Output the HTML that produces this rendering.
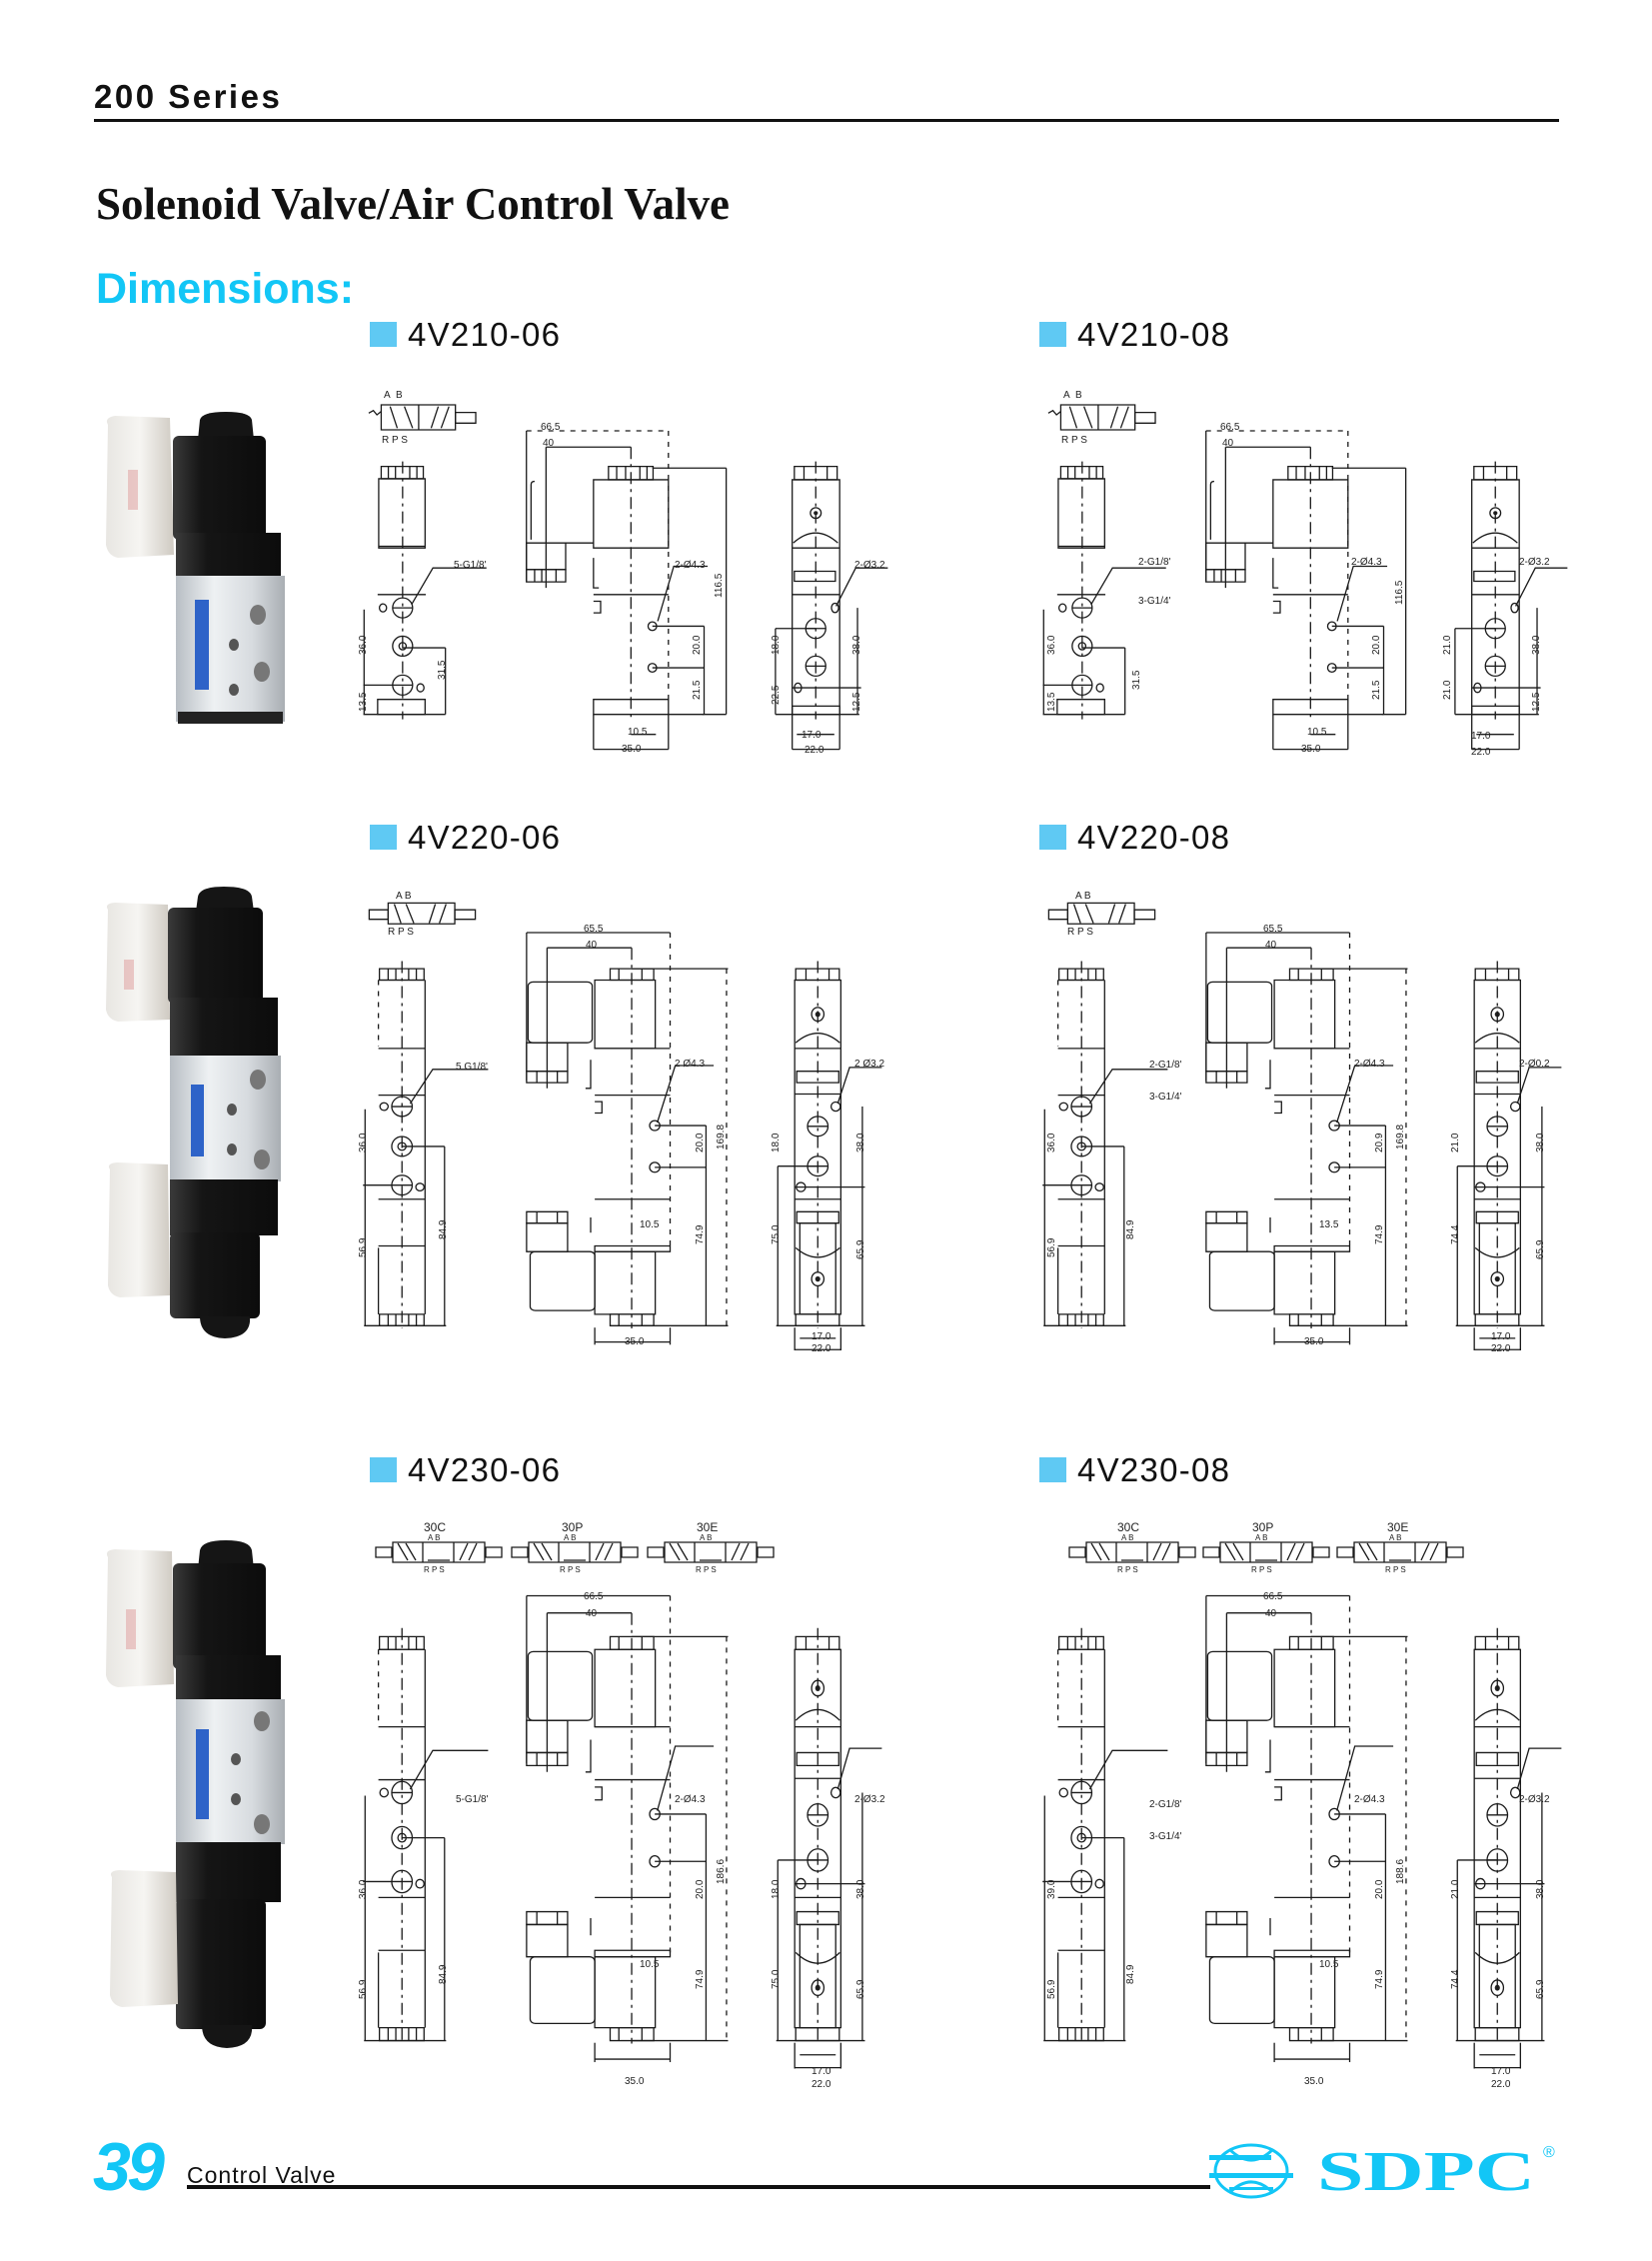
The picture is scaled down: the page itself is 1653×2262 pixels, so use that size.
<!DOCTYPE html>
<html><head><meta charset="utf-8">
<style>
html,body{margin:0;padding:0;background:#fff;}
body{width:1653px;height:2262px;overflow:hidden;position:relative;}
svg{position:absolute;left:0;top:0;}
.d{fill:none;stroke:#1a1a1a;stroke-width:1.3;vector-effect:non-scaling-stroke}
.c{stroke-dasharray:12 5 3 5}
.k{stroke-dasharray:5 6}
.t{font-family:"Liberation Sans",sans-serif;fill:#222}
</style></head>
<body>
<svg width="1653" height="2262" viewBox="0 0 1653 2262" xmlns="http://www.w3.org/2000/svg">
<defs>
<linearGradient id="al" x1="0" x2="1" y1="0" y2="0">
<stop offset="0" stop-color="#b8bec4"/><stop offset="0.35" stop-color="#eef1f3"/><stop offset="0.7" stop-color="#d7dbdf"/><stop offset="1" stop-color="#a9aeb3"/></linearGradient>
<linearGradient id="bk" x1="0" x2="1" y1="0" y2="0">
<stop offset="0" stop-color="#3a3a3a"/><stop offset="0.3" stop-color="#151515"/><stop offset="1" stop-color="#0c0c0c"/></linearGradient>
<linearGradient id="wh" x1="0" x2="1" y1="0" y2="0">
<stop offset="0" stop-color="#e8e6e2"/><stop offset="0.5" stop-color="#f6f5f2"/><stop offset="1" stop-color="#cfcac2"/></linearGradient>

<g id="v1">
<rect class="d" x="60" y="15" width="208" height="75"/>
<line class="d" x1="165" y1="15" x2="165" y2="90"/>
<rect class="d" x="268" y="38" width="57" height="32"/>
<line class="d" x1="85" y1="20" x2="105" y2="85"/><line class="d" x1="125" y1="20" x2="148" y2="85"/>
<line class="d" x1="200" y1="85" x2="220" y2="20"/><line class="d" x1="228" y1="85" x2="250" y2="20"/>
<polyline class="d" points="25,40 38,32 48,45 60,35"/>
<rect class="d" x="60" y="200" width="118" height="37"/>
<line class="d" x1="80" y1="200" x2="80" y2="237"/><line class="d" x1="100" y1="200" x2="100" y2="237"/><line class="d" x1="140" y1="200" x2="140" y2="237"/><line class="d" x1="160" y1="200" x2="160" y2="237"/>
<rect class="d" x="53" y="237" width="130" height="208"/>
<line class="d" x1="53" y1="440" x2="183" y2="440"/>
<line class="d c" x1="120" y1="185" x2="120" y2="960"/>
<line class="d" x1="50" y1="585" x2="185" y2="585"/>
<ellipse class="d" cx="120" cy="625" rx="28" ry="30"/><line class="d" x1="92" y1="625" x2="148" y2="625"/>
<ellipse class="d" cx="120" cy="740" rx="28" ry="30"/><ellipse class="d" cx="120" cy="740" rx="10" ry="11"/>
<ellipse class="d" cx="120" cy="857" rx="28" ry="30"/><line class="d" x1="92" y1="857" x2="148" y2="857"/>
<ellipse class="d" cx="65" cy="625" rx="10" ry="12"/><ellipse class="d" cx="170" cy="865" rx="10" ry="12"/>
<rect class="d" x="50" y="900" width="133" height="45"/>
<line class="d" x1="10" y1="945" x2="240" y2="945"/><line class="d" x1="240" y1="745" x2="240" y2="945"/><line class="d" x1="120" y1="745" x2="240" y2="745"/>
<line class="d" x1="12" y1="630" x2="12" y2="945"/><line class="d" x1="10" y1="857" x2="92" y2="857"/>
<polyline class="d" points="145,615 205,505 355,505"/>
<line class="d k" x1="467" y1="93" x2="865" y2="93"/>
<line class="d" x1="467" y1="93" x2="467" y2="545"/>
<line class="d" x1="522" y1="142" x2="522" y2="565"/><line class="d" x1="522" y1="142" x2="760" y2="142"/>
<line class="d c" x1="760" y1="142" x2="760" y2="960"/>
<line class="d k" x1="865" y1="93" x2="865" y2="900"/>
<rect class="d" x="697" y="200" width="125" height="40"/>
<line class="d" x1="720" y1="200" x2="720" y2="240"/><line class="d" x1="745" y1="200" x2="745" y2="240"/><line class="d" x1="785" y1="200" x2="785" y2="240"/><line class="d" x1="805" y1="200" x2="805" y2="240"/>
<rect class="d" x="655" y="240" width="210" height="205"/>
<path class="d" d="M480,420 V255 Q480,245 490,245"/>
<rect class="d" x="467" y="430" width="110" height="80"/>
<line class="d" x1="577" y1="430" x2="655" y2="430"/>
<rect class="d" x="467" y="510" width="110" height="37"/>
<line class="d" x1="490" y1="510" x2="490" y2="547"/><line class="d" x1="510" y1="510" x2="510" y2="547"/><line class="d" x1="550" y1="510" x2="550" y2="547"/>
<line class="d" x1="655" y1="585" x2="865" y2="585"/>
<polyline class="d" points="655,475 655,565 670,565"/>
<polyline class="d" points="655,605 675,605 675,640 655,640"/>
<rect class="d" x="655" y="900" width="210" height="45"/>
<ellipse class="d" cx="820" cy="680" rx="12" ry="13"/><ellipse class="d" cx="820" cy="805" rx="12" ry="13"/>
<line class="d" x1="820" y1="680" x2="965" y2="680"/><line class="d" x1="820" y1="805" x2="965" y2="805"/>
<line class="d" x1="965" y1="680" x2="965" y2="945"/><line class="d" x1="865" y1="945" x2="965" y2="945"/>
<line class="d" x1="820" y1="205" x2="1027" y2="205"/><line class="d" x1="1027" y1="205" x2="1027" y2="945"/><line class="d" x1="960" y1="945" x2="1027" y2="945"/>
<polyline class="d" points="835,665 880,500 975,500"/>
<line class="d" x1="655" y1="945" x2="655" y2="1050"/><line class="d" x1="865" y1="945" x2="865" y2="1050"/>
<line class="d" x1="760" y1="1005" x2="830" y2="1005"/><line class="d" x1="655" y1="1050" x2="865" y2="1050"/>
<rect class="d" x="1218" y="200" width="120" height="40"/>
<line class="d" x1="1245" y1="200" x2="1245" y2="240"/><line class="d" x1="1310" y1="200" x2="1310" y2="240"/>
<rect class="d" x="1212" y="240" width="133" height="705"/>
<path class="d" d="M1215,430 Q1278,370 1340,430"/>
<line class="d" x1="1212" y1="445" x2="1345" y2="445"/>
<rect class="d" x="1218" y="515" width="115" height="30"/>
<line class="d" x1="1212" y1="585" x2="1345" y2="585"/>
<ellipse class="d" cx="1278" cy="340" rx="15" ry="16"/><ellipse cx="1278" cy="340" rx="6" ry="6" fill="#222"/>
<ellipse class="d" cx="1278" cy="687" rx="28" ry="30"/><line class="d" x1="1250" y1="687" x2="1306" y2="687"/>
<ellipse class="d" cx="1278" cy="800" rx="28" ry="30"/><line class="d" x1="1250" y1="800" x2="1306" y2="800"/>
<ellipse class="d" cx="1332" cy="625" rx="10" ry="14"/><ellipse class="d" cx="1228" cy="865" rx="10" ry="14"/>
<rect class="d" x="1212" y="920" width="133" height="25"/>
<line class="d c" x1="1278" y1="185" x2="1278" y2="960"/>
<line class="d" x1="1165" y1="687" x2="1278" y2="687"/><line class="d" x1="1165" y1="687" x2="1165" y2="945"/>
<line class="d" x1="1395" y1="625" x2="1395" y2="945"/><line class="d" x1="1165" y1="945" x2="1400" y2="945"/>
<line class="d" x1="1212" y1="865" x2="1405" y2="865"/>
<line class="d" x1="1212" y1="945" x2="1212" y2="1050"/><line class="d" x1="1345" y1="945" x2="1345" y2="1050"/>
<line class="d" x1="1225" y1="1005" x2="1330" y2="1005"/><line class="d" x1="1212" y1="1050" x2="1345" y2="1050"/>
<polyline class="d" points="1335,620 1390,505 1480,505"/>
</g>

<g id="v2">
<rect class="d" x="588" y="445" width="87" height="30"/>
<line class="d" x1="605" y1="445" x2="605" y2="475"/><line class="d" x1="620" y1="445" x2="620" y2="475"/><line class="d" x1="645" y1="445" x2="645" y2="475"/><line class="d" x1="660" y1="445" x2="660" y2="475"/>
<rect class="d" x="588" y="1355" width="87" height="30"/>
<line class="d" x1="605" y1="1355" x2="605" y2="1385"/><line class="d" x1="620" y1="1355" x2="620" y2="1385"/><line class="d" x1="645" y1="1355" x2="645" y2="1385"/><line class="d" x1="660" y1="1355" x2="660" y2="1385"/>
<line class="d" x1="677" y1="475" x2="677" y2="1355"/>
<line class="d k" x1="586" y1="475" x2="586" y2="650"/>
<line class="d" x1="586" y1="475" x2="677" y2="475"/><line class="d" x1="586" y1="655" x2="677" y2="655"/>
<line class="d" x1="586" y1="778" x2="677" y2="778"/>
<line class="d" x1="586" y1="1052" x2="677" y2="1052"/>
<ellipse class="d" cx="632" cy="808" rx="20" ry="26"/><line class="d" x1="612" y1="808" x2="652" y2="808"/>
<ellipse class="d" cx="632" cy="913" rx="20" ry="26"/><ellipse class="d" cx="632" cy="913" rx="8" ry="10"/>
<ellipse class="d" cx="632" cy="1015" rx="20" ry="26"/><line class="d" x1="612" y1="1015" x2="652" y2="1015"/>
<ellipse class="d" cx="597" cy="808" rx="8" ry="10"/><ellipse class="d" cx="667" cy="1020" rx="8" ry="10"/>
<line class="d" x1="586" y1="1175" x2="677" y2="1175"/><line class="d" x1="586" y1="1180" x2="586" y2="1355"/>
<line class="d c" x1="632" y1="425" x2="632" y2="1392"/>
<line class="d" x1="560" y1="815" x2="560" y2="1385"/><line class="d" x1="715" y1="913" x2="715" y2="1385"/>
<line class="d" x1="632" y1="913" x2="715" y2="913"/>
<line class="d" x1="558" y1="1385" x2="718" y2="1385"/><line class="d" x1="556" y1="1015" x2="612" y2="1015"/>
<polyline class="d" points="648,800 692,710 800,710"/>
<line class="d" x1="875" y1="350" x2="1155" y2="350"/><line class="d" x1="875" y1="350" x2="875" y2="740"/>
<line class="d" x1="915" y1="390" x2="1080" y2="390"/><line class="d" x1="915" y1="390" x2="915" y2="760"/>
<line class="d c" x1="1080" y1="390" x2="1080" y2="1392"/>
<line class="d k" x1="1155" y1="350" x2="1155" y2="1180"/>
<rect class="d" x="1038" y="445" width="85" height="30"/>
<line class="d" x1="1055" y1="445" x2="1055" y2="475"/><line class="d" x1="1100" y1="445" x2="1100" y2="475"/>
<rect class="d" x="1008" y="475" width="118" height="180"/>
<rect class="d" x="878" y="480" width="125" height="160" rx="10"/>
<rect class="d" x="875" y="640" width="80" height="75"/>
<rect class="d" x="875" y="715" width="80" height="30"/>
<line class="d" x1="895" y1="715" x2="895" y2="745"/><line class="d" x1="935" y1="715" x2="935" y2="745"/>
<line class="d" x1="1008" y1="655" x2="1155" y2="655"/>
<line class="d" x1="1008" y1="778" x2="1155" y2="778"/>
<polyline class="d" points="1000,685 1000,760 990,760"/><polyline class="d" points="1008,795 1022,795 1022,825 1008,825"/>
<line class="d" x1="1008" y1="1052" x2="1155" y2="1052"/>
<ellipse class="d" cx="1125" cy="858" rx="10" ry="13"/><ellipse class="d" cx="1125" cy="968" rx="10" ry="13"/>
<line class="d" x1="1125" y1="858" x2="1225" y2="858"/><line class="d" x1="1125" y1="968" x2="1225" y2="968"/>
<line class="d" x1="1225" y1="858" x2="1225" y2="1385"/>
<line class="d" x1="1080" y1="445" x2="1268" y2="445"/><line class="d k" x1="1265" y1="445" x2="1265" y2="1385"/>
<polyline class="d" points="1130,850 1165,700 1240,700"/>
<rect class="d" x="875" y="1085" width="80" height="30"/>
<line class="d" x1="895" y1="1085" x2="895" y2="1115"/><line class="d" x1="935" y1="1085" x2="935" y2="1115"/>
<rect class="d" x="875" y="1115" width="80" height="75"/>
<rect class="d" x="882" y="1190" width="126" height="155" rx="10"/>
<rect class="d" x="1008" y="1175" width="147" height="15"/>
<rect class="d" x="1008" y="1190" width="118" height="165"/>
<rect class="d" x="1038" y="1355" width="85" height="30"/>
<line class="d" x1="1055" y1="1355" x2="1055" y2="1385"/><line class="d" x1="1100" y1="1355" x2="1100" y2="1385"/>
<line class="d" x1="1000" y1="1100" x2="1000" y2="1140"/>
<line class="d" x1="1080" y1="1385" x2="1268" y2="1385"/>
<line class="d" x1="1008" y1="1390" x2="1008" y2="1435"/><line class="d" x1="1155" y1="1390" x2="1155" y2="1435"/>
<line class="d" x1="1008" y1="1428" x2="1155" y2="1428"/>
<rect class="d" x="1400" y="445" width="85" height="30"/>
<line class="d" x1="1420" y1="445" x2="1420" y2="475"/><line class="d" x1="1465" y1="445" x2="1465" y2="475"/>
<rect class="d" x="1398" y="475" width="90" height="880"/>
<path class="d" d="M1400,640 Q1443,590 1486,640"/>
<line class="d" x1="1398" y1="655" x2="1488" y2="655"/>
<rect class="d" x="1402" y="715" width="82" height="30"/>
<line class="d" x1="1398" y1="775" x2="1488" y2="775"/>
<ellipse class="d" cx="1443" cy="565" rx="12" ry="18"/><ellipse cx="1443" cy="565" rx="5" ry="7" fill="#222"/>
<ellipse class="d" cx="1443" cy="860" rx="20" ry="26"/><line class="d" x1="1423" y1="860" x2="1463" y2="860"/>
<ellipse class="d" cx="1443" cy="965" rx="20" ry="26"/><line class="d" x1="1423" y1="965" x2="1463" y2="965"/>
<ellipse class="d" cx="1478" cy="808" rx="9" ry="12"/><ellipse class="d" cx="1410" cy="1020" rx="9" ry="12"/>
<line class="d" x1="1398" y1="1052" x2="1488" y2="1052"/>
<rect class="d" x="1402" y="1085" width="82" height="30"/>
<path class="d" d="M1400,1180 Q1443,1230 1486,1180"/>
<rect class="d" x="1408" y="1115" width="70" height="240"/>
<ellipse class="d" cx="1443" cy="1262" rx="12" ry="18"/><ellipse cx="1443" cy="1262" rx="5" ry="7" fill="#222"/>
<rect class="d" x="1400" y="1355" width="85" height="30"/>
<line class="d c" x1="1443" y1="425" x2="1443" y2="1392"/>
<line class="d" x1="1365" y1="965" x2="1443" y2="965"/><line class="d" x1="1365" y1="965" x2="1365" y2="1385"/>
<line class="d" x1="1530" y1="808" x2="1530" y2="1385"/><line class="d" x1="1398" y1="1020" x2="1535" y2="1020"/>
<line class="d" x1="1362" y1="1385" x2="1535" y2="1385"/>
<line class="d" x1="1398" y1="1390" x2="1398" y2="1450"/><line class="d" x1="1488" y1="1390" x2="1488" y2="1450"/>
<line class="d" x1="1408" y1="1418" x2="1478" y2="1418"/><line class="d" x1="1398" y1="1448" x2="1488" y2="1448"/>
<polyline class="d" points="1482,800 1505,705 1568,705"/>
</g>

<g id="sym3">
<rect class="d" x="0" y="6" width="16" height="10"/>
<rect class="d" x="17" y="1" width="92" height="20"/>
<line class="d" x1="47" y1="1" x2="47" y2="21"/><line class="d" x1="78" y1="1" x2="78" y2="21"/>
<line class="d" x1="22" y1="2" x2="32" y2="19"/><line class="d" x1="30" y1="2" x2="40" y2="19"/>
<line class="d" x1="84" y1="19" x2="92" y2="2"/><line class="d" x1="93" y1="19" x2="101" y2="2"/>
<line class="d" x1="52" y1="19" x2="74" y2="19"/>
<rect class="d" x="110" y="6" width="16" height="10"/>
</g>
</defs>

<text x="94" y="108" font-family="Liberation Sans, sans-serif" font-weight="bold" font-size="33" letter-spacing="2.5" fill="#111">200 Series</text>
<rect x="94" y="119" width="1466" height="3" fill="#111"/>
<text x="96" y="219" font-family="Liberation Serif, serif" font-weight="bold" font-size="45" fill="#111" textLength="634" lengthAdjust="spacingAndGlyphs">Solenoid Valve/Air Control Valve</text>
<text x="96" y="303" font-family="Liberation Sans, sans-serif" font-weight="bold" font-size="43" fill="#12c6f6">Dimensions:</text>

<rect x="370" y="322" width="27" height="25" fill="#5fc9f3"/>
<text x="408" y="346" font-family="Liberation Sans, sans-serif" font-size="33" fill="#111" textLength="152">4V210-06</text>
<rect x="1040" y="322" width="27" height="25" fill="#5fc9f3"/>
<text x="1078" y="346" font-family="Liberation Sans, sans-serif" font-size="33" fill="#111" textLength="152">4V210-08</text>
<rect x="370" y="825" width="27" height="25" fill="#5fc9f3"/>
<text x="408" y="849" font-family="Liberation Sans, sans-serif" font-size="33" fill="#111" textLength="152">4V220-06</text>
<rect x="1040" y="825" width="27" height="25" fill="#5fc9f3"/>
<text x="1078" y="849" font-family="Liberation Sans, sans-serif" font-size="33" fill="#111" textLength="152">4V220-08</text>
<rect x="370" y="1458" width="27" height="25" fill="#5fc9f3"/>
<text x="408" y="1482" font-family="Liberation Sans, sans-serif" font-size="33" fill="#111" textLength="152">4V230-06</text>
<rect x="1040" y="1458" width="27" height="25" fill="#5fc9f3"/>
<text x="1078" y="1482" font-family="Liberation Sans, sans-serif" font-size="33" fill="#111" textLength="152">4V230-08</text>

<use href="#v1" transform="translate(360,400) scale(0.357,0.333)"/>
<use href="#v1" transform="translate(1040,400) scale(0.357,0.333)"/>
<g class="t" font-size="10">
<text x="384" y="398">A</text><text x="396" y="398">B</text><text x="382" y="443">R P S</text>
<text x="541" y="430">66.5</text><text x="543" y="446">40</text>
<text x="454" y="568">5-G1/8'</text><text x="675" y="568">2-Ø4.3</text><text x="855" y="568">2-Ø3.2</text>
<text x="628" y="735">10.5</text><text x="622" y="752">35.0</text>
<text x="802" y="738">17.0</text><text x="805" y="753">22.0</text>
<text transform="translate(366,655) rotate(-90)">36.0</text><text transform="translate(445,680) rotate(-90)">31.5</text>
<text transform="translate(366,712) rotate(-90)">13.5</text><text transform="translate(722,598) rotate(-90)">116.5</text>
<text transform="translate(700,655) rotate(-90)">20.0</text><text transform="translate(700,700) rotate(-90)">21.5</text>
<text transform="translate(779,655) rotate(-90)">18.0</text><text transform="translate(860,655) rotate(-90)">38.0</text>
<text transform="translate(779,705) rotate(-90)">22.5</text><text transform="translate(860,712) rotate(-90)">12.5</text>
</g>
<g class="t" font-size="10">
<text x="1064" y="398">A</text><text x="1076" y="398">B</text><text x="1062" y="443">R P S</text>
<text x="1221" y="430">66.5</text><text x="1223" y="446">40</text>
<text x="1139" y="565">2-G1/8'</text><text x="1139" y="604">3-G1/4'</text><text x="1352" y="565">2-Ø4.3</text><text x="1520" y="565">2-Ø3.2</text>
<text x="1308" y="735">10.5</text><text x="1302" y="752">35.0</text>
<text x="1472" y="739">17.0</text><text x="1472" y="755">22.0</text>
<text transform="translate(1055,655) rotate(-90)">36.0</text><text transform="translate(1140,690) rotate(-90)">31.5</text>
<text transform="translate(1055,712) rotate(-90)">13.5</text><text transform="translate(1403,605) rotate(-90)">116.5</text>
<text transform="translate(1380,655) rotate(-90)">20.0</text><text transform="translate(1380,700) rotate(-90)">21.5</text>
<text transform="translate(1451,655) rotate(-90)">21.0</text><text transform="translate(1540,655) rotate(-90)">38.0</text>
<text transform="translate(1451,700) rotate(-90)">21.0</text><text transform="translate(1540,712) rotate(-90)">12.5</text>
</g>

<g transform="translate(78,800) scale(0.513,0.38)">
<rect class="d" x="605" y="272" width="130" height="55"/><rect class="d" x="568" y="290" width="37" height="25"/><rect class="d" x="735" y="290" width="40" height="25"/>
<line class="d" x1="617" y1="275" x2="630" y2="325"/><line class="d" x1="640" y1="275" x2="655" y2="325"/><line class="d" x1="685" y1="325" x2="697" y2="275"/><line class="d" x1="705" y1="325" x2="718" y2="275"/>
</g>
<g transform="translate(758,800) scale(0.513,0.38)">
<rect class="d" x="605" y="272" width="130" height="55"/><rect class="d" x="568" y="290" width="37" height="25"/><rect class="d" x="735" y="290" width="40" height="25"/>
<line class="d" x1="617" y1="275" x2="630" y2="325"/><line class="d" x1="640" y1="275" x2="655" y2="325"/><line class="d" x1="685" y1="325" x2="697" y2="275"/><line class="d" x1="705" y1="325" x2="718" y2="275"/>
</g>
<use href="#v2" transform="translate(78,800) scale(0.513,0.38)"/>
<use href="#v2" transform="translate(758,800) scale(0.513,0.38)"/>
<g class="t" font-size="10">
<text x="396" y="899">A B</text><text x="388" y="935">R P S</text>
<text x="584" y="932">65.5</text><text x="586" y="948">40</text>
<text x="456" y="1070">5 G1/8'</text><text x="675" y="1067">2 Ø4.3</text><text x="855" y="1067">2 Ø3.2</text>
<text x="640" y="1228">10.5</text><text x="625" y="1345">35.0</text>
<text x="812" y="1340">17.0</text><text x="812" y="1352">22.0</text>
<text transform="translate(366,1153) rotate(-90)">36.0</text><text transform="translate(366,1258) rotate(-90)">56.9</text>
<text transform="translate(446,1240) rotate(-90)">84.9</text><text transform="translate(703,1153) rotate(-90)">20.0</text>
<text transform="translate(724,1150) rotate(-90)">169.8</text><text transform="translate(703,1245) rotate(-90)">74.9</text>
<text transform="translate(779,1153) rotate(-90)">18.0</text><text transform="translate(779,1245) rotate(-90)">75.0</text>
<text transform="translate(864,1153) rotate(-90)">38.0</text><text transform="translate(864,1260) rotate(-90)">65.9</text>
</g>
<g class="t" font-size="10">
<text x="1076" y="899">A B</text><text x="1068" y="935">R P S</text>
<text x="1264" y="932">65.5</text><text x="1266" y="948">40</text>
<text x="1150" y="1068">2-G1/8'</text><text x="1150" y="1100">3-G1/4'</text><text x="1355" y="1067">2-Ø4.3</text><text x="1520" y="1067">2-Ø0.2</text>
<text x="1320" y="1228">13.5</text><text x="1305" y="1345">35.0</text>
<text x="1492" y="1340">17.0</text><text x="1492" y="1352">22.0</text>
<text transform="translate(1055,1153) rotate(-90)">36.0</text><text transform="translate(1055,1258) rotate(-90)">56.9</text>
<text transform="translate(1134,1240) rotate(-90)">84.9</text><text transform="translate(1383,1153) rotate(-90)">20.9</text>
<text transform="translate(1404,1150) rotate(-90)">169.8</text><text transform="translate(1383,1245) rotate(-90)">74.9</text>
<text transform="translate(1459,1153) rotate(-90)">21.0</text><text transform="translate(1459,1245) rotate(-90)">74.4</text>
<text transform="translate(1544,1153) rotate(-90)">38.0</text><text transform="translate(1544,1260) rotate(-90)">65.9</text>
</g>

<use href="#sym3" x="376" y="1542"/><use href="#sym3" x="512" y="1542"/><use href="#sym3" x="648" y="1542"/>
<use href="#sym3" x="1070" y="1542"/><use href="#sym3" x="1204" y="1542"/><use href="#sym3" x="1338" y="1542"/>
<g class="t" font-size="12">
<text x="424" y="1532">30C</text><text x="562" y="1532">30P</text><text x="697" y="1532">30E</text>
<text x="1118" y="1532">30C</text><text x="1253" y="1532">30P</text><text x="1388" y="1532">30E</text>
</g>
<g class="t" font-size="8">
<text x="428" y="1541">A B</text><text x="424" y="1573">R P S</text><text x="564" y="1541">A B</text><text x="560" y="1573">R P S</text><text x="700" y="1541">A B</text><text x="696" y="1573">R P S</text>
<text x="1122" y="1541">A B</text><text x="1118" y="1573">R P S</text><text x="1256" y="1541">A B</text><text x="1252" y="1573">R P S</text><text x="1390" y="1541">A B</text><text x="1386" y="1573">R P S</text>
</g>

<use href="#v2" transform="translate(78,1446) scale(0.513,0.43)"/>
<use href="#v2" transform="translate(758,1446) scale(0.513,0.43)"/>
<g class="t" font-size="10">
<text x="584" y="1600">66.5</text><text x="586" y="1617">40</text>
<text x="456" y="1803">5-G1/8'</text><text x="675" y="1803">2-Ø4.3</text><text x="855" y="1803">2-Ø3.2</text>
<text x="640" y="1968">10.5</text><text x="625" y="2085">35.0</text>
<text x="812" y="2075">17.0</text><text x="812" y="2088">22.0</text>
<text transform="translate(366,1900) rotate(-90)">36.0</text><text transform="translate(366,2000) rotate(-90)">56.9</text>
<text transform="translate(446,1985) rotate(-90)">84.9</text><text transform="translate(703,1900) rotate(-90)">20.0</text>
<text transform="translate(724,1885) rotate(-90)">186.6</text><text transform="translate(703,1990) rotate(-90)">74.9</text>
<text transform="translate(779,1900) rotate(-90)">18.0</text><text transform="translate(779,1990) rotate(-90)">75.0</text>
<text transform="translate(864,1900) rotate(-90)">38.0</text><text transform="translate(864,2000) rotate(-90)">65.9</text>
</g>
<g class="t" font-size="10">
<text x="1264" y="1600">66.5</text><text x="1266" y="1617">40</text>
<text x="1150" y="1808">2-G1/8'</text><text x="1150" y="1840">3-G1/4'</text><text x="1355" y="1803">2-Ø4.3</text><text x="1520" y="1803">2-Ø3.2</text>
<text x="1320" y="1968">10.5</text><text x="1305" y="2085">35.0</text>
<text x="1492" y="2075">17.0</text><text x="1492" y="2088">22.0</text>
<text transform="translate(1055,1900) rotate(-90)">39.0</text><text transform="translate(1055,2000) rotate(-90)">56.9</text>
<text transform="translate(1134,1985) rotate(-90)">84.9</text><text transform="translate(1383,1900) rotate(-90)">20.0</text>
<text transform="translate(1404,1885) rotate(-90)">188.6</text><text transform="translate(1383,1990) rotate(-90)">74.9</text>
<text transform="translate(1459,1900) rotate(-90)">21.0</text><text transform="translate(1459,1990) rotate(-90)">74.4</text>
<text transform="translate(1544,1900) rotate(-90)">38.0</text><text transform="translate(1544,2000) rotate(-90)">65.9</text>
</g>

<g>
<path d="M108,425 Q104,418 115,416 L170,418 L174,555 L118,558 Q108,556 106,545 Z" fill="url(#wh)"/>
<rect x="128" y="470" width="10" height="40" fill="#d99" opacity="0.5"/>
<path d="M200,420 Q202,412 226,412 Q250,412 252,420 L254,440 L198,440 Z" fill="#151515"/>
<rect x="173" y="436" width="93" height="104" rx="6" fill="url(#bk)"/>
<rect x="176" y="533" width="105" height="45" fill="url(#bk)"/>
<rect x="176" y="576" width="109" height="146" fill="url(#al)"/>
<rect x="195" y="600" width="14" height="90" fill="#2e63c8"/>
<ellipse cx="258" cy="615" rx="8" ry="10" fill="#777"/><ellipse cx="262" cy="672" rx="8" ry="10" fill="#777"/>
<ellipse cx="234" cy="645" rx="5" ry="6" fill="#555"/><ellipse cx="234" cy="690" rx="5" ry="6" fill="#555"/>
<rect x="178" y="712" width="105" height="12" fill="#222"/>
</g>
<g>
<path d="M108,910 Q104,904 115,903 L168,905 L170,1020 L118,1022 Q108,1020 106,1010 Z" fill="url(#wh)"/>
<rect x="124" y="960" width="10" height="30" fill="#d99" opacity="0.5"/>
<path d="M198,897 Q200,887 224,887 Q250,887 252,897 L254,912 L196,912 Z" fill="#151515"/>
<rect x="168" y="908" width="95" height="96" rx="6" fill="url(#bk)"/>
<rect x="170" y="998" width="108" height="60" fill="url(#bk)"/>
<rect x="170" y="1056" width="111" height="126" fill="url(#al)"/>
<rect x="191" y="1085" width="13" height="72" fill="#2e63c8"/>
<ellipse cx="258" cy="1080" rx="8" ry="10" fill="#777"/><ellipse cx="262" cy="1160" rx="8" ry="10" fill="#777"/>
<ellipse cx="232" cy="1110" rx="5" ry="6" fill="#555"/><ellipse cx="232" cy="1150" rx="5" ry="6" fill="#555"/>
<rect x="170" y="1180" width="108" height="56" fill="url(#bk)"/>
<rect x="170" y="1233" width="90" height="86" rx="6" fill="url(#bk)"/>
<path d="M200,1317 L250,1317 Q252,1338 225,1339 Q200,1338 200,1317 Z" fill="#151515"/>
<path d="M110,1170 Q106,1164 117,1163 L168,1165 L170,1296 L120,1298 Q110,1296 108,1286 Z" fill="url(#wh)"/>
</g>
<g>
<path d="M108,1558 Q104,1551 115,1550 L172,1552 L174,1685 L118,1688 Q108,1686 106,1676 Z" fill="url(#wh)"/>
<rect x="126" y="1610" width="10" height="40" fill="#d99" opacity="0.5"/>
<path d="M200,1551 Q202,1541 226,1541 Q250,1541 252,1551 L254,1570 L198,1570 Z" fill="#151515"/>
<rect x="173" y="1564" width="93" height="106" rx="6" fill="url(#bk)"/>
<rect x="176" y="1656" width="105" height="46" fill="url(#bk)"/>
<rect x="176" y="1700" width="109" height="145" fill="url(#al)"/>
<rect x="196" y="1730" width="13" height="90" fill="#2e63c8"/>
<ellipse cx="262" cy="1722" rx="8" ry="10" fill="#777"/><ellipse cx="262" cy="1825" rx="8" ry="10" fill="#777"/>
<ellipse cx="236" cy="1760" rx="5" ry="6" fill="#555"/><ellipse cx="236" cy="1800" rx="5" ry="6" fill="#555"/>
<rect x="176" y="1843" width="105" height="60" fill="url(#bk)"/>
<rect x="176" y="1900" width="90" height="130" rx="6" fill="url(#bk)"/>
<path d="M202,2026 L252,2026 Q254,2048 227,2049 Q202,2048 202,2026 Z" fill="#151515"/>
<path d="M112,1878 Q108,1872 119,1871 L176,1873 L178,2005 L122,2008 Q112,2006 110,1996 Z" fill="url(#wh)"/>
</g>

<text x="93" y="2191" font-family="Liberation Sans, sans-serif" font-weight="bold" font-style="italic" font-size="68" fill="#12c6f6" textLength="72">39</text>
<text x="187" y="2184" font-family="Liberation Sans, sans-serif" font-size="23" letter-spacing="1" fill="#111">Control Valve</text>
<rect x="187" y="2186" width="1024" height="4" fill="#111"/>
<g fill="none" stroke="#12c6f6" stroke-width="3">
<ellipse cx="1252" cy="2172" rx="36" ry="26"/>
<path d="M1230,2150 Q1252,2172 1274,2150 M1230,2194 Q1252,2172 1274,2194"/>
</g>
<rect x="1210" y="2156" width="62" height="5" fill="#12c6f6"/>
<rect x="1210" y="2174" width="84" height="5" fill="#12c6f6"/>
<rect x="1230" y="2188" width="44" height="3" fill="#12c6f6"/>
<text x="1318" y="2191" font-family="Liberation Serif, serif" font-weight="bold" font-size="56" fill="#12c6f6" textLength="218" lengthAdjust="spacingAndGlyphs">SDPC</text>
<text x="1544" y="2158" font-family="Liberation Sans, sans-serif" font-size="16" fill="#12c6f6">®</text>
</svg>
</body></html>
